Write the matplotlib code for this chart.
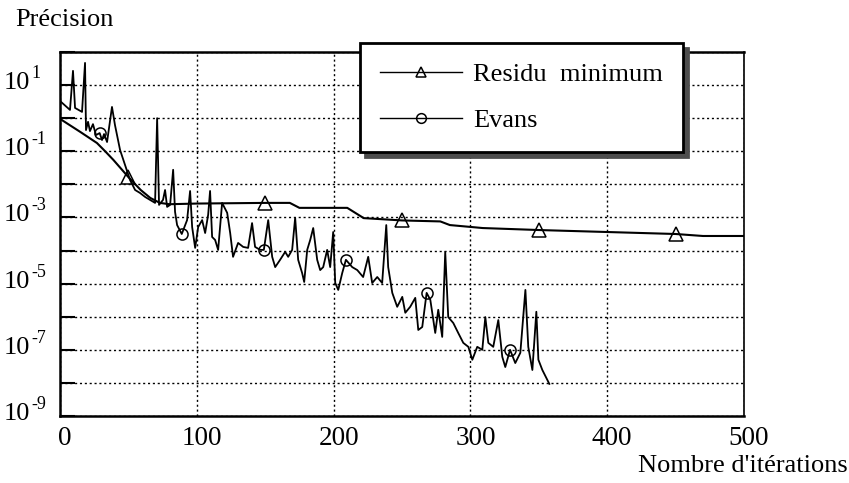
import matplotlib
matplotlib.use("Agg")
import matplotlib.pyplot as plt
import matplotlib.ticker as mticker
import matplotlib.transforms as mtransforms
import numpy as np

plt.rcParams['font.family'] = ['Liberation Serif', 'DejaVu Serif']

# ---- data ----
residu_iter = [0, 15, 27, 33, 39, 50, 59, 66, 73, 80, 100, 150, 168, 175, 210,
               222, 250, 278, 285, 309, 350, 400, 450, 470, 500]
residu_log10 = [-0.02, -0.42, -0.75, -1.0, -1.26, -1.78, -2.17, -2.41, -2.56, -2.60,
                -2.58, -2.56, -2.56, -2.71, -2.71, -3.02, -3.09, -3.12, -3.23, -3.32,
                -3.38, -3.44, -3.50, -3.56, -3.56]
residu_marks = [50, 150, 250, 350, 450]

evans_iter = [0, 7.3, 9.5, 11, 16.1, 18.3, 19, 20.5, 21.9, 24.1, 26.3, 29, 30.7, 32.2,
              34.4, 38, 40.2, 43.9, 47.5, 51.2, 54.9, 58.5, 62.2, 65.8, 69.5, 71, 72.4,
              75.3, 76.8, 78.3, 80.5, 82.7, 84.1, 85.6, 89, 92.9, 95.1, 96.6, 98.8,
              101, 103.9, 106.1, 108.3, 109.7, 111.2, 113.4, 115.6, 118.5, 122.2,
              124.4, 126.5, 130.2, 133.9, 137.5, 140.4, 142.6, 146.3, 149, 152.2,
              155.1, 157.3, 160.9, 164.6, 166.8, 169.7, 171.9, 174.1, 177, 178.5,
              180.7, 182.9, 185.1, 188, 190.2, 192.4, 195.3, 197.5, 199.7, 201.2,
              203.4, 206.3, 209, 213.6, 217.3, 221.6, 225.3, 228.2, 231.9, 235.5,
              238.5, 239.9, 242.9, 246.5, 250.2, 252.4, 256, 259.7, 261.9, 264.8,
              268, 270.7, 274.3, 276.5, 279.4, 281.6, 283.8, 287.5, 291.1, 294.8,
              298.5, 301.4, 305, 308.7, 310.9, 313.1, 316.7, 320.4, 323.3, 325.5,
              329, 332.8, 336.5, 340.2, 342.3, 345.3, 348.2, 349.7, 352.6, 356.3, 357.7]
evans_log10 = [0.52, 0.25, 1.43, 0.31, 0.19, 1.67, -0.36, -0.11, -0.39, -0.18, -0.51,
               -0.45, -0.66, -0.48, -0.72, 0.34, -0.21, -0.96, -1.41, -1.87, -2.17,
               -2.26, -2.38, -2.47, -2.56, 0.0, -2.62, -2.47, -2.17, -2.68, -2.62,
               -1.56, -2.83, -3.23, -3.50, -3.08, -2.20, -3.29, -3.92, -3.29, -3.08,
               -3.47, -2.92, -2.20, -3.59, -3.68, -3.98, -2.56, -2.86, -3.47, -4.19,
               -3.77, -3.89, -3.92, -3.17, -3.89, -3.98, -3.98, -3.08, -4.19, -4.50,
               -4.28, -4.04, -4.19, -3.98, -3.01, -4.28, -4.68, -4.95, -3.98, -3.68,
               -3.32, -4.28, -4.59, -4.50, -3.98, -4.50, -3.44, -4.98, -5.19, -4.68,
               -4.28, -4.50, -4.59, -4.80, -4.19, -4.98, -4.80, -4.98, -3.23, -4.50,
               -5.28, -5.70, -5.40, -5.88, -5.70, -5.43, -6.40, -6.31, -5.28, -5.49,
               -6.49, -5.79, -6.61, -4.04, -6.01, -6.19, -6.49, -6.79, -6.91, -7.30,
               -6.91, -7.00, -6.01, -6.79, -6.91, -6.10, -7.21, -7.52, -7.00, -7.40,
               -7.09, -5.19, -6.91, -7.61, -5.85, -7.30, -7.61, -7.91, -8.03]
evans_marks = [29, 89, 149, 209, 268, 329]

x_ticks = [0, 100, 200, 300, 400, 500]
y_label_exps = [1, -1, -3, -5, -7, -9]
label_residu = "Residu  minimum"
label_evans = "Evans"

# ---- figure ----
W, H = 849, 483
fig = plt.figure(figsize=(W / 100, H / 100), dpi=100)
ax = fig.add_axes([60 / W, 1 - 416 / H, (744 - 60) / W, (416 - 52) / H])

res_y = np.power(10.0, residu_log10)
ev_y = np.power(10.0, evans_log10)

ax.plot(evans_iter, ev_y, color='black', lw=1.3, marker='o', ms=8,
        mfc='none', mec='black', mew=1.1,
        markevery=[evans_iter.index(m) for m in evans_marks], label=label_evans,
        zorder=3)
ax.plot(residu_iter, res_y, color='black', lw=1.5, marker='^', ms=9.5,
        mfc='none', mec='black', mew=1.1,
        markevery=[residu_iter.index(m) for m in residu_marks], label=label_residu,
        zorder=4)

ax.set_yscale('log')
ax.set_xlim(0, 500)
ax.set_ylim(1e-9, 1e2)
ax.set_xticks(x_ticks)
ax.set_xticklabels([str(t) for t in x_ticks])
ax.yaxis.set_major_locator(mticker.LogLocator(base=10, numticks=20))
ax.yaxis.set_minor_locator(mticker.NullLocator())

ax.tick_params(axis='y', direction='in', length=11, width=1.5, labelleft=False)
ax.tick_params(axis='x', direction='in', length=0, pad=7, labelsize=19.5)

offset = mtransforms.ScaledTranslation(5 / 100, 0, fig.dpi_scale_trans)
for lab in ax.get_xticklabels():
    lab.set_transform(lab.get_transform() + offset)

# y tick labels "10" with superscript exponent (short hyphen as in the original)
ytrans = mtransforms.blended_transform_factory(fig.transFigure, ax.transData)
for e in y_label_exps:
    v = 10.0 ** e
    ax.text(30 / W, v, '10', fontsize=19, ha='right', va='baseline',
            transform=ytrans + mtransforms.ScaledTranslation(0, -4 / 100, fig.dpi_scale_trans),
            clip_on=False)
    ax.text(31 / W, v, '%d' % e, fontsize=13, ha='left', va='baseline',
            transform=ytrans + mtransforms.ScaledTranslation(0, 7 / 100, fig.dpi_scale_trans),
            clip_on=False)

ax.grid(True, which='major', color='black', lw=1.0, linestyle=(0, (1.5, 2)))

for s in ['left', 'bottom', 'top']:
    ax.spines[s].set_linewidth(1.8)
ax.spines['right'].set_linewidth(1.2)

fig.text(15 / W, 1 - 26 / H, 'Précision', fontsize=19, va='baseline', ha='left')
fig.text(848 / W, 1 - 472 / H, "Nombre d'itérations", fontsize=19,
         va='baseline', ha='right')

handles, labels = ax.get_legend_handles_labels()
leg = fig.legend(handles[::-1], labels[::-1], loc='upper left',
                 bbox_to_anchor=(360 / W, 1 - 43 / H), fontsize=19,
                 frameon=True, fancybox=False, framealpha=1,
                 edgecolor='black', handlelength=3.1, handletextpad=0.45,
                 labelspacing=0.84, borderpad=0.75, borderaxespad=0,
                 shadow={'ox': 3.5, 'oy': -3.5, 'color': '0.3', 'alpha': 1})
leg.get_frame().set_linewidth(2.0)
for lh in leg.legend_handles:
    lh.set_markersize(7)
    lh.set_linewidth(1.0)

fig.savefig('out.png', dpi=100)
